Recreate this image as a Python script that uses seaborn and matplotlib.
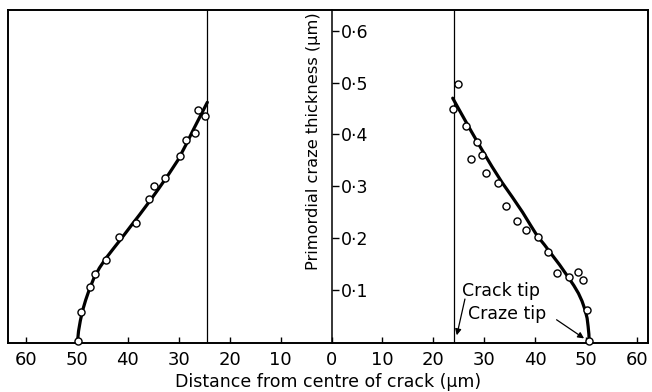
import matplotlib
matplotlib.use("Agg")
import matplotlib.pyplot as plt
import pandas as pd
import seaborn as sns

# Measured primordial craze thickness (um) against distance from the crack centre (um)
left_dist = [-49.9, -49.2, -47.4, -46.5, -44.4, -41.8, -38.5, -35.9, -34.9,
             -32.7, -29.7, -28.6, -26.8, -26.3, -24.9]
left_thick = [0.0, 0.057, 0.105, 0.130, 0.157, 0.201, 0.229, 0.276, 0.301,
              0.316, 0.358, 0.389, 0.403, 0.447, 0.435]

right_dist = [24.8, 23.9, 26.4, 28.6, 27.3, 29.6, 30.4, 32.7, 34.3, 36.4,
              38.2, 40.5, 42.5, 44.2, 46.6, 48.4, 49.4, 50.1, 50.5]
right_thick = [0.497, 0.449, 0.417, 0.385, 0.352, 0.360, 0.326, 0.306, 0.262,
               0.233, 0.215, 0.202, 0.172, 0.133, 0.124, 0.134, 0.118, 0.060, 0.0]

# Fitted craze profiles
left_fit_dist = [-49.9, -49.7, -49.35, -48.9, -48.3, -47.6, -46.7, -45.6, -44.3,
                 -42.8, -41.2, -39.5, -37.7, -35.8, -33.9, -32.0, -30.2, -28.6,
                 -27.1, -25.7, -24.4]
left_fit_thick = [0.0, 0.02, 0.04, 0.06, 0.08, 0.10, 0.122, 0.142, 0.161,
                  0.18, 0.20, 0.222, 0.245, 0.27, 0.296, 0.323, 0.350, 0.380,
                  0.410, 0.437, 0.462]
right_fit_dist = [23.8, 25.5, 27.5, 29.5, 31.5, 33.5, 35.5, 37.5, 39.0, 40.4,
                  41.8, 43.1, 44.8, 46.5, 47.6, 48.5, 49.2, 49.8, 50.2, 50.4,
                  50.55, 50.6]
right_fit_thick = [0.470, 0.440, 0.405, 0.371, 0.338, 0.307, 0.279, 0.250, 0.226,
                   0.204, 0.187, 0.170, 0.148, 0.124, 0.108, 0.093, 0.078, 0.061,
                   0.045, 0.029, 0.014, 0.0]

crack_tip_dist = [-24.4, 24.0]

x_ticks = [-60, -50, -40, -30, -20, -10, 0, 10, 20, 30, 40, 50, 60]
x_tick_labels = ["60", "50", "40", "30", "20", "10", "0", "10", "20", "30", "40", "50", "60"]
y_ticks = [0.1, 0.2, 0.3, 0.4, 0.5, 0.6]
y_tick_labels = ["0·1", "0·2", "0·3", "0·4", "0·5", "0·6"]

sns.set_theme(style="white")
plt.rcParams["font.family"] = ["DejaVu Sans"]
plt.rcParams.update({"text.color": "black", "axes.labelcolor": "black",
                     "xtick.color": "black", "ytick.color": "black"})

fig = plt.figure(figsize=(6.52, 3.92), dpi=100)
ax = fig.add_axes([0.0127, 0.1258, 0.9807, 0.8479])

points = pd.DataFrame({"dist": left_dist + right_dist,
                       "thick": left_thick + right_thick})
left_fit = pd.DataFrame({"dist": left_fit_dist, "thick": left_fit_thick})
right_fit = pd.DataFrame({"dist": right_fit_dist, "thick": right_fit_thick})

for x in crack_tip_dist:
    ax.axvline(x, color="black", lw=0.9, zorder=1)

for fit in (left_fit, right_fit):
    sns.lineplot(data=fit, x="dist", y="thick", sort=False, estimator=None,
                 color="black", lw=2.3, ax=ax, zorder=2)

sns.scatterplot(data=points, x="dist", y="thick", marker="o", s=26,
                facecolor="white", edgecolor="black", linewidth=1.0,
                ax=ax, zorder=3, clip_on=False)

ax.set_xlim(-63.5, 62.1)
ax.set_ylim(-0.0023, 0.6397)

# Thickness axis runs up the crack centre line, ticks and labels to its right
ax.spines["right"].set_position(("data", 0))
ax.yaxis.tick_right()
ax.plot([1, 1], [0, 1], transform=ax.transAxes, color="black", lw=1.4,
        clip_on=False, zorder=5)
for side in ("left", "top", "bottom", "right"):
    ax.spines[side].set_color("black")
    ax.spines[side].set_linewidth(1.4)
ax.spines["right"].set_linewidth(1.1)

ax.set_xticks(x_ticks)
ax.set_xticklabels(x_tick_labels)
ax.set_yticks(y_ticks)
ax.set_yticklabels(y_tick_labels)
ax.tick_params(axis="x", direction="in", length=4, width=1, colors="black",
               labelsize=13, pad=6, bottom=True)
ax.tick_params(axis="y", direction="out", length=5, width=1, colors="black",
               labelsize=12.5, pad=1.5, right=True, left=False)

ax.set_xlabel("Distance from centre of crack (μm)", fontsize=12.5, labelpad=3)
ax.yaxis.set_label_position("left")
ax.set_ylabel("Primordial craze thickness (μm)", fontsize=11.7)
ax.yaxis.set_label_coords(0.489, 0.605)
ax.yaxis.label.set_va("bottom")

ax.text(25.6, 0.088, "Crack tip", fontsize=12.5, ha="left", va="baseline")
ax.text(26.9, 0.043, "Craze tip", fontsize=12.5, ha="left", va="baseline")
arrow = dict(arrowstyle="-|>", color="black", lw=0.9, mutation_scale=9,
             shrinkA=0, shrinkB=0)
ax.annotate("", xy=(24.6, 0.012), xytext=(26.2, 0.082), arrowprops=arrow)
ax.annotate("", xy=(49.6, 0.006), xytext=(44.2, 0.042), arrowprops=arrow)

fig.savefig("out.png", dpi=100)
